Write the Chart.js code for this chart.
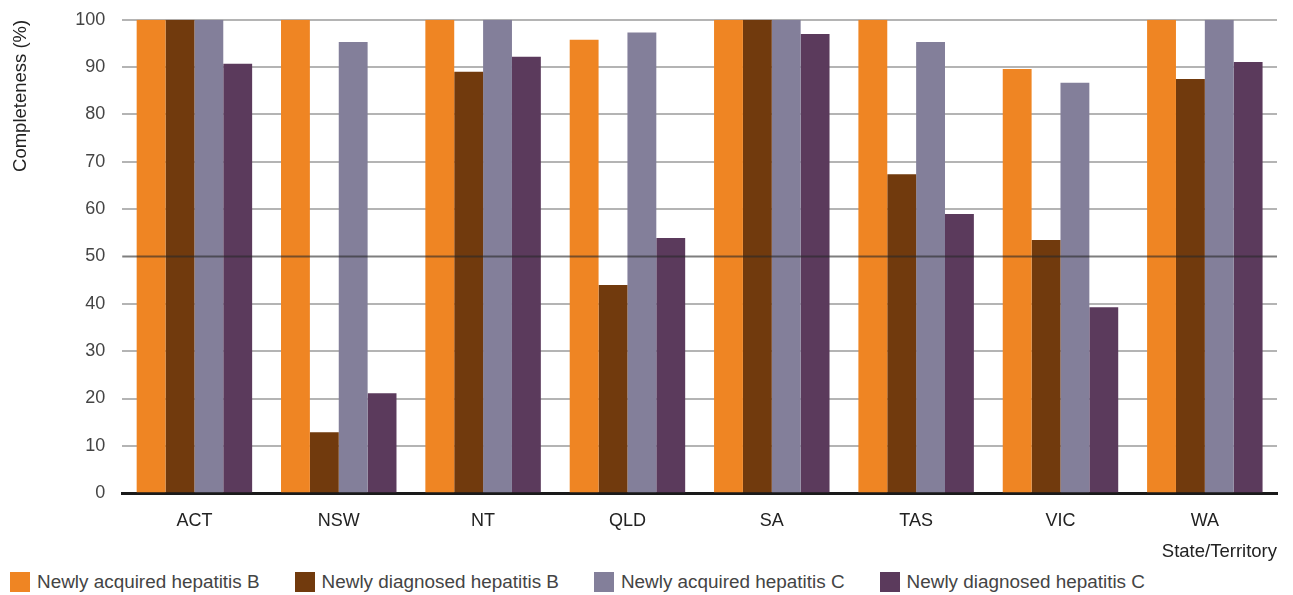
<!DOCTYPE html>
<html>
<head>
<meta charset="utf-8">
<script src="https://cdn.jsdelivr.net/npm/chart.js@4/dist/chart.umd.min.js"></script>
<style>
  html, body { margin: 0; padding: 0; background: #fff; overflow: hidden; }
  #wrap { width: 1293px; height: 573px; position: absolute; left: 0; top: -8px; }
  #legend {
    display: flex; align-items: center;
    position: absolute; left: 10px; top: 571px;
    font-family: "Liberation Sans", Arial, sans-serif;
    font-size: 18.9px; color: #444;
  }
  #legend .item { display: flex; align-items: center; margin-right: 35px; white-space: nowrap; }
  #legend .box { width: 20px; height: 20px; margin-right: 7px; }
</style>
</head>
<body>
<div id="wrap"><canvas id="completenessChart"></canvas></div>
<div id="legend"></div>
<script>
const states = ['ACT', 'NSW', 'NT', 'QLD', 'SA', 'TAS', 'VIC', 'WA'];
const acquiredB = [100, 100, 100, 95.8, 100, 100, 89.6, 100];
const diagnosedB = [100, 12.9, 89.0, 44.0, 100, 67.4, 53.5, 87.5];
const acquiredC = [100, 95.3, 100, 97.3, 100, 95.3, 86.7, 100];
const diagnosedC = [90.7, 21.1, 92.2, 53.9, 97.0, 59.0, 39.3, 91.1];
const yTicks = [0, 10, 20, 30, 40, 50, 60, 70, 80, 90, 100];

Chart.defaults.font.family = '"Liberation Sans", Arial, sans-serif';

// darker reference line at 50, drawn over the bars
const midLine = {
    id: 'midLine',
    afterDatasetsDraw(chart) {
        const { ctx, chartArea, scales } = chart;
        const y = scales.y.getPixelForValue(50);
        ctx.save();
        ctx.strokeStyle = 'rgba(40, 40, 40, 0.6)';
        ctx.lineWidth = 2;
        ctx.beginPath();
        ctx.moveTo(chartArea.left, y);
        ctx.lineTo(chartArea.right, y);
        ctx.stroke();
        ctx.restore();
    }
};

const graph = document.querySelector('#completenessChart');

const chart = new Chart(graph, {
    type: 'bar',
    data: {
        labels: states,
        datasets: [
            { label: 'Newly acquired hepatitis B', data: acquiredB, backgroundColor: '#EF8523' },
            { label: 'Newly diagnosed hepatitis B', data: diagnosedB, backgroundColor: '#713A0D' },
            { label: 'Newly acquired hepatitis C', data: acquiredC, backgroundColor: '#837F9A' },
            { label: 'Newly diagnosed hepatitis C', data: diagnosedC, backgroundColor: '#5B3A5C' }
        ]
    },
    options: {
        responsive: true,
        maintainAspectRatio: false,
        animation: false,
        layout: { padding: { left: 10, right: 16, top: 0, bottom: 0 } },
        datasets: {
            bar: { categoryPercentage: 0.8, barPercentage: 1.0 }
        },
        plugins: {
            tooltip: { enabled: false },
            legend: { display: false }
        },
        scales: {
            x: {
                grid: { display: false },
                border: { display: true, color: '#1a1a1a', width: 3 },
                ticks: { color: '#222', font: { size: 18 }, padding: 9 },
                title: {
                    display: true,
                    text: 'State/Territory',
                    align: 'end',
                    color: '#222',
                    font: { size: 18.5 },
                    padding: { top: 0, bottom: 2 }
                }
            },
            y: {
                min: 0,
                max: 100,
                afterBuildTicks(axis) {
                    axis.ticks = yTicks.map(v => ({ value: v }));
                },
                grid: {
                    drawTicks: false,
                    lineWidth: 2,
                    color: ctx => (ctx.tick && (ctx.tick.value === 0 || ctx.tick.value === 50)) ? 'rgba(0,0,0,0)' : '#b4b4b4'
                },
                border: { display: false },
                ticks: { color: '#444', font: { size: 18 }, padding: 17 },
                title: {
                    display: true,
                    text: 'Completeness (%)',
                    align: 'end',
                    color: '#222',
                    font: { size: 18.5 },
                    padding: { top: 0, bottom: 26 }
                }
            }
        }
    },
    plugins: [midLine]
});

// html legend built from the chart's datasets
const legendEl = document.querySelector('#legend');
chart.data.datasets.forEach((ds) => {
    const item = document.createElement('div');
    item.className = 'item';
    const box = document.createElement('span');
    box.className = 'box';
    box.style.background = ds.backgroundColor;
    item.appendChild(box);
    item.appendChild(document.createTextNode(ds.label));
    legendEl.appendChild(item);
});
</script>
</body>
</html>
